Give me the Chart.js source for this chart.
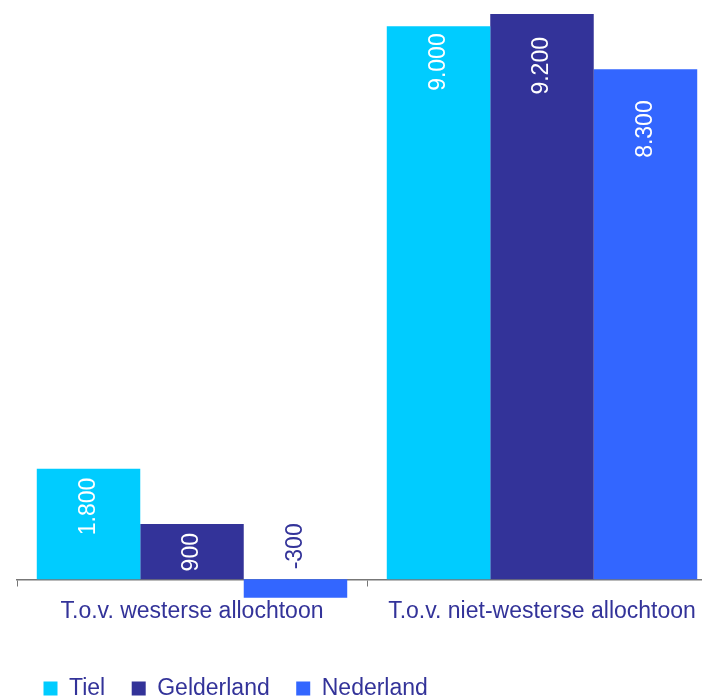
<!DOCTYPE html>
<html>
<head>
<meta charset="utf-8">
<script src="https://cdn.jsdelivr.net/npm/chart.js@4"></script>
<style>
    html, body { margin: 0; padding: 0; background: #ffffff; overflow: hidden; }
    #wrap { width: 717px; height: 696px; position: relative; }
</style>
</head>
<body>
<div id="wrap"><canvas id="chart"></canvas></div>
<script>
const categories = ['T.o.v. westerse allochtoon', 'T.o.v. niet-westerse allochtoon'];
const tiel = [1800, 9000];
const gelderland = [900, 9200];
const nederland = [-300, 8300];

const seriesNames = ['Tiel', 'Gelderland', 'Nederland'];
const seriesColors = ['#00ccff', '#333399', '#3366ff'];

const textColor = '#333399';
const fontFamily = "'Liberation Sans', Arial, sans-serif";

function formatNL(v) {
    const s = Math.abs(v).toString().replace(/\B(?=(\d{3})+(?!\d))/g, '.');
    return (v < 0 ? '-' : '') + s;
}

// label distance from bar end, per dataset / category
const labelPad = [[9, 7], [9, 23], [10, 31]];

const barLabels = {
    id: 'barLabels',
    afterDatasetsDraw(chart) {
        const ctx = chart.ctx;
        ctx.save();
        ctx.font = '23px ' + fontFamily;
        ctx.textBaseline = 'middle';
        chart.data.datasets.forEach((ds, di) => {
            const meta = chart.getDatasetMeta(di);
            meta.data.forEach((el, i) => {
                const v = ds.data[i];
                ctx.save();
                if (v >= 0) {
                    ctx.translate(el.x, el.y + labelPad[di][i]);
                    ctx.rotate(-Math.PI / 2);
                    ctx.textAlign = 'right';
                    ctx.fillStyle = '#ffffff';
                } else {
                    ctx.translate(el.x, el.base - 10);
                    ctx.rotate(-Math.PI / 2);
                    ctx.textAlign = 'left';
                    ctx.fillStyle = textColor;
                }
                ctx.fillText(formatNL(v), 0, 0);
                ctx.restore();
            });
        });
        ctx.restore();
    }
};

new Chart(document.getElementById('chart'), {
    type: 'bar',
    data: {
        labels: categories,
        datasets: [tiel, gelderland, nederland].map((d, i) => ({
            label: seriesNames[i],
            data: d,
            backgroundColor: seriesColors[i],
            borderWidth: 0,
            categoryPercentage: 0.887,
            barPercentage: 1
        }))
    },
    options: {
        responsive: true,
        maintainAspectRatio: false,
        animation: false,
        layout: {
            padding: { top: 0, left: 17, right: 0, bottom: -14 }
        },
        plugins: {
            legend: {
                display: true,
                position: 'bottom',
                align: 'start',
                labels: {
                    color: textColor,
                    boxWidth: 14,
                    boxHeight: 14,
                    padding: 26.5,
                    font: { size: 23, family: fontFamily }
                }
            },
            tooltip: { enabled: false }
        },
        scales: {
            x: {
                position: { y: 0 },
                afterFit: (scale) => { scale.height = 35; },
                grid: {
                    offset: true,
                    drawOnChartArea: false,
                    tickLength: 6,
                    color: '#777777'
                },
                border: { display: true, color: '#777777', width: 1.5 },
                ticks: {
                    color: textColor,
                    padding: 13,
                    font: { size: 23, family: fontFamily }
                }
            },
            y: {
                display: false,
                min: -1158,
                max: 9428
            }
        }
    },
    plugins: [barLabels]
});
</script>
</body>
</html>
